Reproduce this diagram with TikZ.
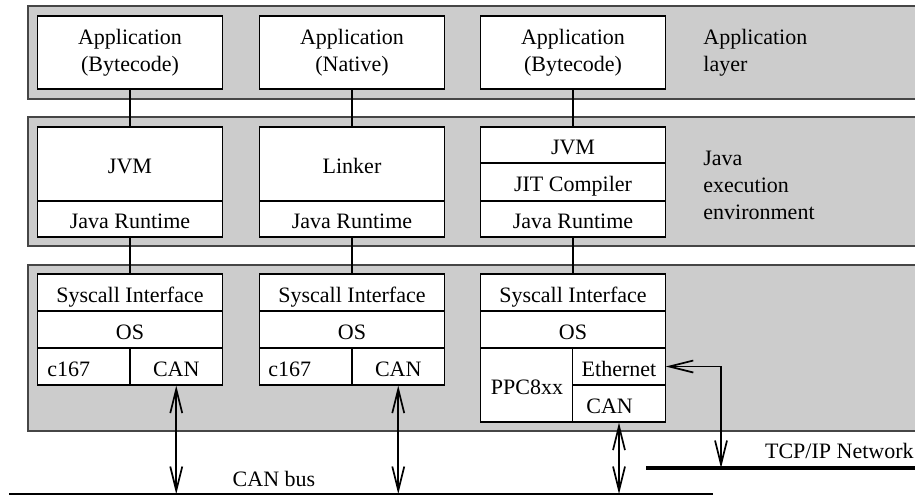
\documentclass[tikz,border=0pt]{standalone}
\usepackage{fontspec}
\setmainfont{Liberation Serif}
\usetikzlibrary{arrows.meta}

\definecolor{bandgray}{RGB}{204,204,204}
\definecolor{bandedge}{RGB}{70,70,70}

\tikzset{
  band/.style={fill=bandgray},
  bandline/.style={draw=bandedge,line width=0.7pt},
  cell/.style={draw=black,fill=white,line width=0.55pt,inner sep=0pt,
    align=center,font=\fontsize{11}{13.5}\selectfont},
  % single-line cells share one baseline position
  oneline/.style={text height=12pt,text depth=2.5pt},
  wide/.style={minimum width=92.5pt},
  half/.style={minimum width=46.25pt},
  txt/.style={inner sep=0pt,align=left,font=\fontsize{11}{13.5}\selectfont},
  link/.style={draw=black,line width=0.85pt},
  dblarrow/.style={draw=black,line width=0.85pt,
    {Straight Barb[length=12pt,width=6pt]}-{Straight Barb[length=12pt,width=6pt]}},
  busline/.style={draw=black,line width=0.8pt},
  netline/.style={draw=black,line width=2pt},
}

\begin{document}
\begin{tikzpicture}[x=0.5pt,y=-0.5pt]
\useasboundingbox (0,0) rectangle (915,495);

% --- layer bands (open to the right) ---
\fill[band] (28,6) rectangle (915,99);
\draw[bandline] (915,6) -- (28,6) -- (28,99) -- (915,99);
\fill[band] (28,117) rectangle (915,246);
\draw[bandline] (915,117) -- (28,117) -- (28,246) -- (915,246);
\fill[band] (28,265) rectangle (915,431);
\draw[bandline] (915,265) -- (28,265) -- (28,431) -- (915,431);

% --- band captions ---
\node[txt,anchor=west] (lblapp) at (703,53) {Application\\layer};
\node[txt,anchor=west] (lbljava) at (703,185) {Java\\execution\\environment};

% --- application layer ---
\node[cell,wide,minimum height=36.5pt] (app1) at (130,52.5) {Application\\(Bytecode)};
\node[cell,wide,minimum height=36.5pt] (app2) at (352,52.5) {Application\\(Native)};
\node[cell,wide,minimum height=36.5pt] (app3) at (573,52.5) {Application\\(Bytecode)};

% --- Java execution environment ---
\node[cell,oneline,wide,minimum height=37pt] (jvm1) at (130,164) {JVM};
\node[cell,oneline,wide,minimum height=18pt] (rt1) at (130,219) {Java Runtime};
\node[cell,oneline,wide,minimum height=37pt] (lnk2) at (352,164) {Linker};
\node[cell,oneline,wide,minimum height=18pt] (rt2) at (352,219) {Java Runtime};
\node[cell,oneline,wide,minimum height=18pt] (jvm3) at (573,145) {JVM};
\node[cell,oneline,wide,minimum height=19pt] (jit3) at (573,182) {JIT Compiler};
\node[cell,oneline,wide,minimum height=18pt] (rt3) at (573,219) {Java Runtime};

% --- operating system and hardware ---
\node[cell,oneline,wide,minimum height=18.5pt] (sys1) at (130,292.5) {Syscall Interface};
\node[cell,oneline,wide,minimum height=18.5pt] (os1) at (130,329.5) {OS};
\node[cell,oneline,half,minimum height=18.5pt] (cpu1) at (83.75,366.5) {};
\node[txt,oneline,anchor=west] (cpu1t) at (47,366.5) {c167};
\node[cell,oneline,half,minimum height=18.5pt] (can1) at (176.25,366.5) {CAN};

\node[cell,oneline,wide,minimum height=18.5pt] (sys2) at (352,292.5) {Syscall Interface};
\node[cell,oneline,wide,minimum height=18.5pt] (os2) at (352,329.5) {OS};
\node[cell,oneline,half,minimum height=18.5pt] (cpu2) at (305.75,366.5) {};
\node[txt,oneline,anchor=west] (cpu2t) at (268,366.5) {c167};
\node[cell,oneline,half,minimum height=18.5pt] (can2) at (398.25,366.5) {CAN};

\node[cell,oneline,wide,minimum height=18.5pt] (sys3) at (573,292.5) {Syscall Interface};
\node[cell,oneline,wide,minimum height=18.5pt] (os3) at (573,329.5) {OS};
\node[cell,oneline,half,minimum height=37pt] (cpu3) at (527,385) {PPC8xx};
\node[cell,oneline,half,minimum height=18.5pt] (eth3) at (619,366.5) {Ethernet};
\node[cell,oneline,half,minimum height=18.5pt] (can3) at (619,403.5) {};
\node[txt,oneline,anchor=west] (can3t) at (586,403.5) {CAN};

% --- vertical links between layers ---
\draw[link] (app1.south) -- (jvm1.north);
\draw[link] (app2.south) -- (lnk2.north);
\draw[link] (app3.south) -- (jvm3.north);
\draw[link] (rt1.south) -- (sys1.north);
\draw[link] (rt2.south) -- (sys2.north);
\draw[link] (rt3.south) -- (sys3.north);

% --- networks ---
\coordinate (busL) at (9,494);
\coordinate (busR) at (713,494);
\coordinate (netL) at (646,468);
\coordinate (netR) at (915,468);
\coordinate (ethdrop) at (721,468);
\draw[busline] (busL) -- (busR);
\draw[netline] (netL) -- (netR);
\node[txt,anchor=center] (buslbl) at (274,479) {CAN bus};
\node[txt,anchor=east] (netlbl) at (914,451) {TCP/IP Network};

% --- bus connections ---
\draw[dblarrow] (can1.south) -- (can1.south |- busL);
\draw[dblarrow] (can2.south) -- (can2.south |- busL);
\draw[dblarrow] (can3.south) -- (can3.south |- busL);
\draw[dblarrow] (eth3.east) -| (ethdrop);
\end{tikzpicture}
\end{document}
